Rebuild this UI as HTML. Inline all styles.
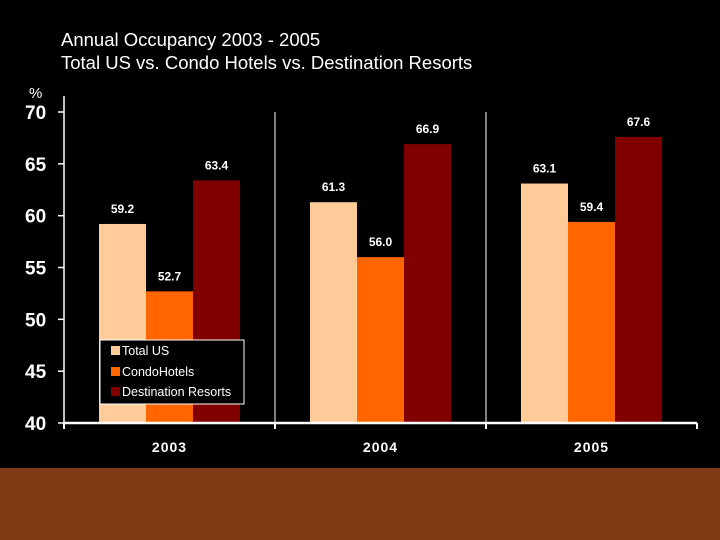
<!DOCTYPE html>
<html><head><meta charset="utf-8"><style>
body{margin:0;width:720px;height:540px;overflow:hidden;background:#000;font-family:"Liberation Sans",sans-serif}
svg{display:block}
</style></head><body>
<svg width="720" height="540" xmlns="http://www.w3.org/2000/svg">
<rect x="0" y="0" width="720" height="468" fill="#000"/>
<rect x="0" y="468" width="720" height="72" fill="#7F3A16"/>
<text x="61" y="46" fill="#fff" font-size="18.5">Annual Occupancy 2003 - 2005</text>
<text x="61" y="69" fill="#fff" font-size="18.5">Total US vs. Condo Hotels vs. Destination Resorts</text>
<text x="29" y="98" fill="#fff" font-size="15">%</text>
<g id="plot"></g>
<g>
<rect x="100" y="340" width="144" height="64" fill="#000" stroke="#fff" stroke-width="1"/>
<rect x="111" y="346" width="9" height="9" fill="#FFCC99"/>
<text x="122" y="355" fill="#fff" font-size="12.5">Total US</text>
<rect x="111" y="367" width="9" height="9" fill="#FF6600"/>
<text x="122" y="376" fill="#fff" font-size="12.5">CondoHotels</text>
<rect x="111" y="387" width="9" height="9" fill="#800000"/>
<text x="122" y="396" fill="#fff" font-size="12.5">Destination Resorts</text>
</g>
</svg>
<script>
const categories=["2003","2004","2005"];
const seriesNames=["Total US","CondoHotels","Destination Resorts"];
const totalUS=[59.2,61.3,63.1];
const condoHotels=[52.7,56.0,59.4];
const destResorts=[63.4,66.9,67.6];
const yTicks=[40,45,50,55,60,65,70];
const colors=["#FFCC99","#FF6600","#800000"];
const NS="http://www.w3.org/2000/svg";
const g=document.getElementById('plot');
const x0=64,x1=697,yTop=112,yBot=423,vMin=40,vMax=70;
const gw=(x1-x0)/categories.length, bw=47, off=35;
function y(v){return yBot-(v-vMin)/(vMax-vMin)*(yBot-yTop);}
function el(t,a){const e=document.createElementNS(NS,t);for(const k in a)e.setAttribute(k,a[k]);g.appendChild(e);return e;}
const series=[totalUS,condoHotels,destResorts];
series.forEach((s,si)=>{s.forEach((v,ci)=>{
 const bx=x0+ci*gw+off+si*bw;
 const r=el('rect',{x:bx,y:y(v),width:bw,height:yBot-y(v),fill:colors[si]});
 
 
 const t=el('text',{x:bx+bw/2,y:y(v)-11,fill:'#fff','font-size':12,'font-weight':'bold','text-anchor':'middle'});
 t.textContent=v.toFixed(1);
 
 
});});
for(let i=1;i<categories.length;i++){
 const l=el('line',{x1:x0+i*gw,x2:x0+i*gw,y1:yTop,y2:yBot,stroke:'#fff','stroke-width':1});
 
 
}
const ya=el('line',{x1:x0,x2:x0,y1:yTop-16,y2:yBot,stroke:'#fff','stroke-width':1.5});


const xa=el('line',{x1:x0,x2:x1,y1:yBot,y2:yBot,stroke:'#fff','stroke-width':2.5});


for(let i=0;i<=categories.length;i++){
 const tk=el('line',{x1:x0+i*gw,x2:x0+i*gw,y1:yBot,y2:yBot+6,stroke:'#fff','stroke-width':2});
 
 
}
categories.forEach((c,ci)=>{
 const t=el('text',{x:x0+ci*gw+gw/2,y:452,fill:'#fff','font-size':14,'font-weight':'bold','text-anchor':'middle','letter-spacing':'1'});
 t.textContent=c;
 
 
});
yTicks.forEach(v=>{
 const tk=el('line',{x1:x0-6,x2:x0,y1:y(v),y2:y(v),stroke:'#fff','stroke-width':1.5});
 
 
 const t=el('text',{x:25,y:y(v)+7,fill:'#fff','font-size':19,'font-weight':'bold'});
 t.textContent=v;
 
 
});
</script>
</body></html>
